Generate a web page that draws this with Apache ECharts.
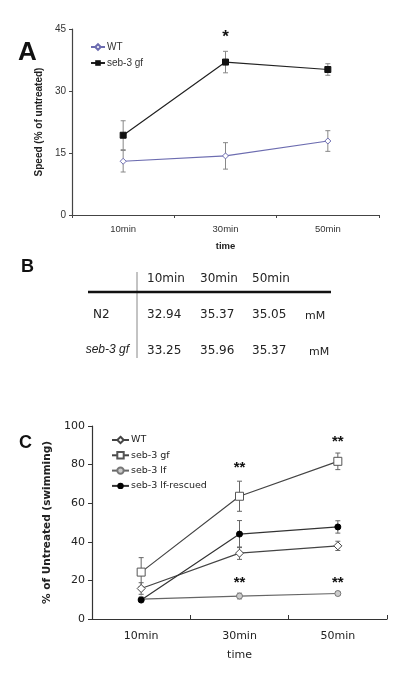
<!DOCTYPE html>
<html><head><meta charset="utf-8">
<script src="https://cdn.jsdelivr.net/npm/echarts@6/dist/echarts.min.js"></script>
<style>html,body{margin:0;padding:0;background:#fff;}#a{position:absolute;left:0;top:0;width:400px;height:400px;}#c{position:absolute;left:0;top:400px;width:400px;height:279px;}</style>
</head><body><div id="a"></div><div id="c"></div>
<script>
// ---------- data ----------
const categories = ['10min', '30min', '50min'];
// Panel A
const wtA = [13.0, 14.3, 17.9];
const wtAErr = [2.6, 3.2, 2.5];
const gfA = [19.3, 37.0, 35.2];
const gfAErr = [3.5, 2.6, 1.4];
const starsA = [[1, 43.1, '*']];
const ticksA = { min: 0, max: 45, interval: 15 };
// Panel B (table)
const tableCols = ['10min', '30min', '50min'];
const tableRowNames = ['N2', 'seb-3 gf'];
const n2Values = ['32.94', '35.37', '35.05'];
const gfValues = ['33.25', '35.96', '35.37'];
const unit = 'mM';
// Panel C
const wtC = [15.8, 34.1, 37.9];
const wtCErr = [3.0, 3.2, 2.4];
const gfC = [24.3, 63.6, 81.7];
const gfCErr = [7.5, 7.8, 4.3];
const lfC = [10.3, 11.9, 13.2];
const lfCErr = [0.8, 1.5, 1.0];
const resC = [9.8, 44.0, 47.7];
const resCErr = [0.5, 7.0, 3.2];
const starsC = [[1, 78.3, '**'], [2, 91.9, '**'], [1, 18.9, '**'], [2, 18.9, '**']];
const ticksC = { min: 0, max: 100, interval: 20 };

// ---------- helpers ----------
function errData(vals, errs) { return vals.map((v, i) => [i, v - errs[i], v + errs[i]]); }
function errSeries(vals, errs, color, cap) {
  return {
    type: 'custom', data: errData(vals, errs), encode: { x: 0, y: [1, 2] }, z: 1, silent: true,
    renderItem: function (params, api) {
      const x = api.value(0);
      const lo = api.coord([x, api.value(1)]);
      const hi = api.coord([x, api.value(2)]);
      const st = { stroke: color, lineWidth: 1 };
      return { type: 'group', children: [
        { type: 'line', shape: { x1: lo[0], y1: lo[1], x2: hi[0], y2: hi[1] }, style: st },
        { type: 'line', shape: { x1: lo[0] - cap, y1: lo[1], x2: lo[0] + cap, y2: lo[1] }, style: st },
        { type: 'line', shape: { x1: hi[0] - cap, y1: hi[1], x2: hi[0] + cap, y2: hi[1] }, style: st }
      ] };
    }
  };
}
function starSeries(stars, font, size) {
  return {
    type: 'custom', data: stars, encode: { x: 0, y: 1 }, z: 5, silent: true,
    renderItem: function (params, api) {
      const p = api.coord([api.value(0), api.value(1)]);
      return { type: 'text', x: p[0], y: p[1], style: { text: stars[params.dataIndex][2], fill: '#111', font: 'bold ' + size + 'px ' + font, align: 'center', verticalAlign: 'middle' } };
    }
  };
}

// ---------- Panel A + B ----------
const chartA = echarts.init(document.getElementById('a'), null, { renderer: 'canvas' });
const fA = 'Liberation Sans, Arial, sans-serif';
const tf = 'DejaVu Sans, sans-serif';
const colX = [147, 200, 252];
const graphicsB = [
  { type: 'text', left: 18, top: 40, style: { text: 'A', font: 'bold 26px ' + fA, fill: '#111' } },
  { type: 'text', left: 21, top: 258, style: { text: 'B', font: 'bold 18px ' + fA, fill: '#111' } },
  { type: 'line', shape: { x1: 137, y1: 272, x2: 137, y2: 358 }, style: { stroke: '#888', lineWidth: 1 } },
  { type: 'line', shape: { x1: 88, y1: 292, x2: 331, y2: 292 }, style: { stroke: '#111', lineWidth: 2.5 } }
];
tableCols.forEach((c, i) => graphicsB.push({ type: 'text', x: colX[i], y: 279, style: { text: c, font: '12px ' + tf, fill: '#222', verticalAlign: 'middle' } }));
graphicsB.push({ type: 'text', x: 93, y: 315, style: { text: tableRowNames[0], font: '12px ' + tf, fill: '#222', verticalAlign: 'middle' } });
graphicsB.push({ type: 'text', x: 129, y: 350, style: { text: tableRowNames[1], font: 'italic 12px ' + fA, fill: '#222', verticalAlign: 'middle', align: 'right' } });
n2Values.forEach((v, i) => graphicsB.push({ type: 'text', x: colX[i], y: 315, style: { text: v, font: '12px ' + tf, fill: '#222', verticalAlign: 'middle' } }));
gfValues.forEach((v, i) => graphicsB.push({ type: 'text', x: colX[i], y: 351, style: { text: v, font: '12px ' + tf, fill: '#222', verticalAlign: 'middle' } }));
graphicsB.push({ type: 'text', x: 305, y: 316, style: { text: unit, font: '11px ' + tf, fill: '#222', verticalAlign: 'middle' } });
graphicsB.push({ type: 'text', x: 309, y: 352, style: { text: unit, font: '11px ' + tf, fill: '#222', verticalAlign: 'middle' } });

chartA.setOption({
  animation: false,
  grid: { left: 72, top: 29, right: 21, bottom: 185 },
  legend: {
    orient: 'vertical', left: 85, top: 37, itemWidth: 14, itemHeight: 7, itemGap: 6,
    textStyle: { fontFamily: fA, fontSize: 10, color: '#333', padding: [0, 0, 0, -3] },
    data: ['WT', 'seb-3 gf']
  },
  xAxis: {
    type: 'category', data: categories, boundaryGap: true,
    name: 'time', nameLocation: 'middle', nameGap: 26,
    nameTextStyle: { fontFamily: fA, fontSize: 9.5, fontWeight: 'bold', color: '#222' },
    axisLine: { lineStyle: { color: '#444', width: 1.2 } },
    axisTick: { show: true, length: 3, lineStyle: { color: '#444' } },
    axisLabel: { fontFamily: fA, fontSize: 9.5, color: '#333', margin: 9 }
  },
  yAxis: {
    type: 'value', min: ticksA.min, max: ticksA.max, interval: ticksA.interval,
    name: 'Speed (% of untreated)', nameLocation: 'middle', nameGap: 26,
    nameTextStyle: { fontFamily: fA, fontSize: 10, fontWeight: 'bold', color: '#222' },
    axisLine: { show: true, lineStyle: { color: '#444', width: 1.2 } },
    axisTick: { show: true, length: 3, lineStyle: { color: '#444' } },
    axisLabel: { fontFamily: fA, fontSize: 10, color: '#333', margin: 6 },
    splitLine: { show: false }
  },
  graphic: graphicsB,
  series: [
    errSeries(wtA, wtAErr, '#888', 2.5),
    errSeries(gfA, gfAErr, '#888', 2.5),
    { name: 'WT', type: 'line', data: wtA, symbol: 'diamond', symbolSize: 6, z: 3,
      lineStyle: { color: '#6c6cb0', width: 1.2 }, itemStyle: { color: '#fff', borderColor: '#6c6cb0', borderWidth: 1 } },
    { name: 'seb-3 gf', type: 'line', data: gfA, symbol: 'rect', symbolSize: 6, z: 3,
      lineStyle: { color: '#222', width: 1.2 }, itemStyle: { color: '#111', borderColor: '#111' } },
    starSeries(starsA, fA, 17)
  ]
});

// ---------- Panel C ----------
const chartC = echarts.init(document.getElementById('c'), null, { renderer: 'canvas' });
const fC = 'DejaVu Sans, Verdana, sans-serif';
chartC.setOption({
  animation: false,
  grid: { left: 92, top: 26, right: 13, bottom: 60 },
  legend: {
    orient: 'vertical', left: 106, top: 30, itemWidth: 17, itemHeight: 8, itemGap: 5.3,
    textStyle: { fontFamily: fC, fontSize: 9.5, color: '#222', padding: [0, 0, 0, -3] },
    data: ['WT', 'seb-3 gf', 'seb-3 lf', 'seb-3 lf-rescued']
  },
  xAxis: {
    type: 'category', data: categories, boundaryGap: true,
    name: 'time', nameLocation: 'middle', nameGap: 31,
    nameTextStyle: { fontFamily: fC, fontSize: 11, color: '#222' },
    axisLine: { lineStyle: { color: '#333', width: 1.2 } },
    axisTick: { show: true, inside: true, length: 4, lineStyle: { color: '#333' } },
    axisLabel: { fontFamily: fC, fontSize: 11, color: '#222', margin: 12 }
  },
  yAxis: {
    type: 'value', min: ticksC.min, max: ticksC.max, interval: ticksC.interval,
    name: '% of Untreated (swimming)', nameLocation: 'middle', nameGap: 33,
    nameTextStyle: { fontFamily: fC, fontSize: 10.5, fontWeight: 'bold', color: '#222' },
    axisLine: { show: true, lineStyle: { color: '#333', width: 1.2 } },
    axisTick: { show: true, length: 4, lineStyle: { color: '#333' } },
    axisLabel: { fontFamily: fC, fontSize: 11, color: '#222', margin: 7 },
    splitLine: { show: false }
  },
  graphic: [
    { type: 'text', left: 19, top: 34, style: { text: 'C', font: 'bold 18px ' + fA, fill: '#111' } }
  ],
  series: [
    errSeries(gfC, gfCErr, '#666', 2.5),
    errSeries(resC, resCErr, '#666', 2.5),
    errSeries(wtC, wtCErr, '#666', 2.5),
    errSeries(lfC, lfCErr, '#888', 2.5),
    { name: 'WT', type: 'line', data: wtC, symbol: 'diamond', symbolSize: 8, z: 3,
      lineStyle: { color: '#444', width: 1.2 }, itemStyle: { color: '#fff', borderColor: '#444', borderWidth: 1 } },
    { name: 'seb-3 gf', type: 'line', data: gfC, symbol: 'rect', symbolSize: 8, z: 3,
      lineStyle: { color: '#444', width: 1.2 }, itemStyle: { color: '#fff', borderColor: '#555', borderWidth: 1 } },
    { name: 'seb-3 lf', type: 'line', data: lfC, symbol: 'circle', symbolSize: 6, z: 3,
      lineStyle: { color: '#666', width: 1.2 }, itemStyle: { color: '#ccc', borderColor: '#777', borderWidth: 1 } },
    { name: 'seb-3 lf-rescued', type: 'line', data: resC, symbol: 'circle', symbolSize: 6, z: 4,
      lineStyle: { color: '#333', width: 1.2 }, itemStyle: { color: '#000', borderColor: '#000' } },
    starSeries(starsC, fA, 15)
  ]
});
</script></body></html>
